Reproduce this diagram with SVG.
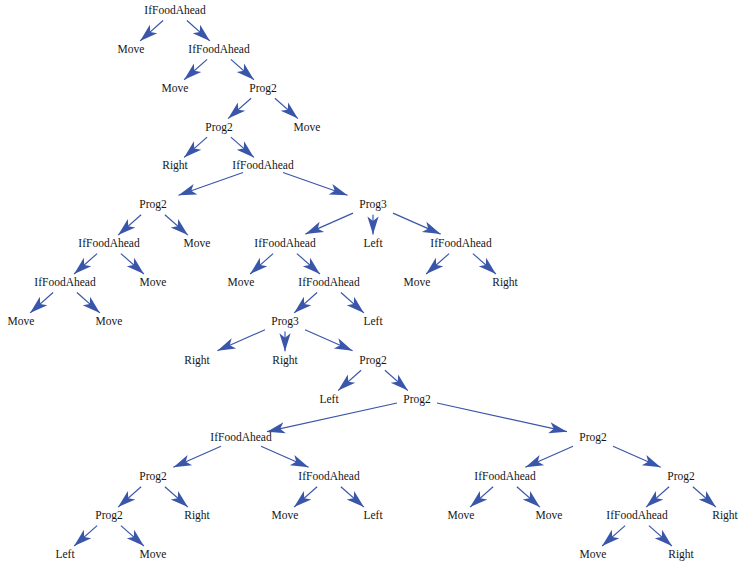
<svg xmlns="http://www.w3.org/2000/svg" width="738" height="563" viewBox="0 0 738 563">
<style>
.e{stroke:#3a56aa;stroke-width:1.2;fill:none;marker-end:url(#ah)}
.n text{font-family:"Liberation Serif","Times New Roman",serif;font-size:11.5px;fill:#151515;text-anchor:middle}
</style>
<defs>
<marker id="ah" markerUnits="userSpaceOnUse" viewBox="-19 -6 20 12" markerWidth="20" markerHeight="12" refX="0" refY="0" orient="auto" overflow="visible">
<path d="M0,0 L-18,-5.6 L-13.5,0 L-18,5.6 Z" fill="#3a56aa"/>
</marker>
</defs>
<g id="connectors">
<line class="e" x1="163.1" y1="20.5" x2="140.1" y2="40.9"/>
<line class="e" x1="186.9" y1="20.5" x2="209.9" y2="40.9"/>
<line class="e" x1="207.1" y1="59.4" x2="184.1" y2="79.7"/>
<line class="e" x1="230.9" y1="59.4" x2="253.9" y2="79.7"/>
<line class="e" x1="251.1" y1="98.2" x2="228.1" y2="118.6"/>
<line class="e" x1="274.9" y1="98.2" x2="297.9" y2="118.6"/>
<line class="e" x1="207.1" y1="137.1" x2="184.1" y2="157.4"/>
<line class="e" x1="230.9" y1="137.1" x2="253.9" y2="157.4"/>
<line class="e" x1="243" y1="172.5" x2="178.5" y2="195.3"/>
<line class="e" x1="283" y1="172.5" x2="347.5" y2="195.3"/>
<line class="e" x1="141.1" y1="214.8" x2="118.1" y2="235.1"/>
<line class="e" x1="164.9" y1="214.8" x2="187.9" y2="235.1"/>
<line class="e" x1="353" y1="213.1" x2="305.4" y2="234.1"/>
<line class="e" x1="373" y1="214.8" x2="373" y2="234.6"/>
<line class="e" x1="393" y1="213.1" x2="440.6" y2="234.1"/>
<line class="e" x1="97.1" y1="253.6" x2="74.1" y2="274"/>
<line class="e" x1="120.9" y1="253.6" x2="143.9" y2="274"/>
<line class="e" x1="273.1" y1="253.6" x2="250.1" y2="274"/>
<line class="e" x1="296.9" y1="253.6" x2="319.9" y2="274"/>
<line class="e" x1="449.1" y1="253.6" x2="426.1" y2="274"/>
<line class="e" x1="472.9" y1="253.6" x2="495.9" y2="274"/>
<line class="e" x1="53.1" y1="292.5" x2="30.1" y2="312.9"/>
<line class="e" x1="76.9" y1="292.5" x2="99.9" y2="312.9"/>
<line class="e" x1="317.1" y1="292.5" x2="294.1" y2="312.9"/>
<line class="e" x1="340.9" y1="292.5" x2="363.9" y2="312.9"/>
<line class="e" x1="265" y1="329.7" x2="217.4" y2="350.7"/>
<line class="e" x1="285" y1="331.4" x2="285" y2="351.2"/>
<line class="e" x1="305" y1="329.7" x2="352.6" y2="350.7"/>
<line class="e" x1="361.1" y1="370.2" x2="338.1" y2="390.6"/>
<line class="e" x1="384.9" y1="370.2" x2="407.9" y2="390.6"/>
<line class="e" x1="397" y1="403" x2="267" y2="431.7"/>
<line class="e" x1="437" y1="403" x2="567" y2="431.7"/>
<line class="e" x1="221" y1="446.3" x2="173.4" y2="467.3"/>
<line class="e" x1="261" y1="446.3" x2="308.6" y2="467.3"/>
<line class="e" x1="573" y1="446.3" x2="525.4" y2="467.3"/>
<line class="e" x1="613" y1="446.3" x2="660.6" y2="467.3"/>
<line class="e" x1="141.1" y1="486.8" x2="118.1" y2="507.1"/>
<line class="e" x1="164.9" y1="486.8" x2="187.9" y2="507.1"/>
<line class="e" x1="317.1" y1="486.8" x2="294.1" y2="507.1"/>
<line class="e" x1="340.9" y1="486.8" x2="363.9" y2="507.1"/>
<line class="e" x1="493.1" y1="486.8" x2="470.1" y2="507.1"/>
<line class="e" x1="516.9" y1="486.8" x2="539.9" y2="507.1"/>
<line class="e" x1="669.1" y1="486.8" x2="646.1" y2="507.1"/>
<line class="e" x1="692.9" y1="486.8" x2="715.9" y2="507.1"/>
<line class="e" x1="97.1" y1="525.6" x2="74.1" y2="546"/>
<line class="e" x1="120.9" y1="525.6" x2="143.9" y2="546"/>
<line class="e" x1="625.1" y1="525.6" x2="602.1" y2="546"/>
<line class="e" x1="648.9" y1="525.6" x2="671.9" y2="546"/>
</g>
<g class="n" id="n0"><text x="175" y="14">IfFoodAhead</text></g>
<g class="n" id="n1"><text x="131" y="52.9">Move</text></g>
<g class="n" id="n2"><text x="219" y="52.9">IfFoodAhead</text></g>
<g class="n" id="n3"><text x="175" y="91.7">Move</text></g>
<g class="n" id="n4"><text x="263" y="91.7">Prog2</text></g>
<g class="n" id="n5"><text x="219" y="130.6">Prog2</text></g>
<g class="n" id="n6"><text x="307" y="130.6">Move</text></g>
<g class="n" id="n7"><text x="175" y="169.4">Right</text></g>
<g class="n" id="n8"><text x="263" y="169.4">IfFoodAhead</text></g>
<g class="n" id="n9"><text x="153" y="208.3">Prog2</text></g>
<g class="n" id="n10"><text x="373" y="208.3">Prog3</text></g>
<g class="n" id="n11"><text x="109" y="247.1">IfFoodAhead</text></g>
<g class="n" id="n12"><text x="197" y="247.1">Move</text></g>
<g class="n" id="n13"><text x="285" y="247.1">IfFoodAhead</text></g>
<g class="n" id="n14"><text x="373" y="247.1">Left</text></g>
<g class="n" id="n15"><text x="461" y="247.1">IfFoodAhead</text></g>
<g class="n" id="n16"><text x="65" y="286">IfFoodAhead</text></g>
<g class="n" id="n17"><text x="153" y="286">Move</text></g>
<g class="n" id="n18"><text x="241" y="286">Move</text></g>
<g class="n" id="n19"><text x="329" y="286">IfFoodAhead</text></g>
<g class="n" id="n20"><text x="417" y="286">Move</text></g>
<g class="n" id="n21"><text x="505" y="286">Right</text></g>
<g class="n" id="n22"><text x="21" y="324.9">Move</text></g>
<g class="n" id="n23"><text x="109" y="324.9">Move</text></g>
<g class="n" id="n24"><text x="285" y="324.9">Prog3</text></g>
<g class="n" id="n25"><text x="373" y="324.9">Left</text></g>
<g class="n" id="n26"><text x="197" y="363.7">Right</text></g>
<g class="n" id="n27"><text x="285" y="363.7">Right</text></g>
<g class="n" id="n28"><text x="373" y="363.7">Prog2</text></g>
<g class="n" id="n29"><text x="329" y="402.6">Left</text></g>
<g class="n" id="n30"><text x="417" y="402.6">Prog2</text></g>
<g class="n" id="n31"><text x="241" y="441.4">IfFoodAhead</text></g>
<g class="n" id="n32"><text x="593" y="441.4">Prog2</text></g>
<g class="n" id="n33"><text x="153" y="480.3">Prog2</text></g>
<g class="n" id="n34"><text x="329" y="480.3">IfFoodAhead</text></g>
<g class="n" id="n35"><text x="505" y="480.3">IfFoodAhead</text></g>
<g class="n" id="n36"><text x="681" y="480.3">Prog2</text></g>
<g class="n" id="n37"><text x="109" y="519.1">Prog2</text></g>
<g class="n" id="n38"><text x="197" y="519.1">Right</text></g>
<g class="n" id="n39"><text x="285" y="519.1">Move</text></g>
<g class="n" id="n40"><text x="373" y="519.1">Left</text></g>
<g class="n" id="n41"><text x="461" y="519.1">Move</text></g>
<g class="n" id="n42"><text x="549" y="519.1">Move</text></g>
<g class="n" id="n43"><text x="637" y="519.1">IfFoodAhead</text></g>
<g class="n" id="n44"><text x="725" y="519.1">Right</text></g>
<g class="n" id="n45"><text x="65" y="558">Left</text></g>
<g class="n" id="n46"><text x="153" y="558">Move</text></g>
<g class="n" id="n47"><text x="593" y="558">Move</text></g>
<g class="n" id="n48"><text x="681" y="558">Right</text></g>
</svg>
